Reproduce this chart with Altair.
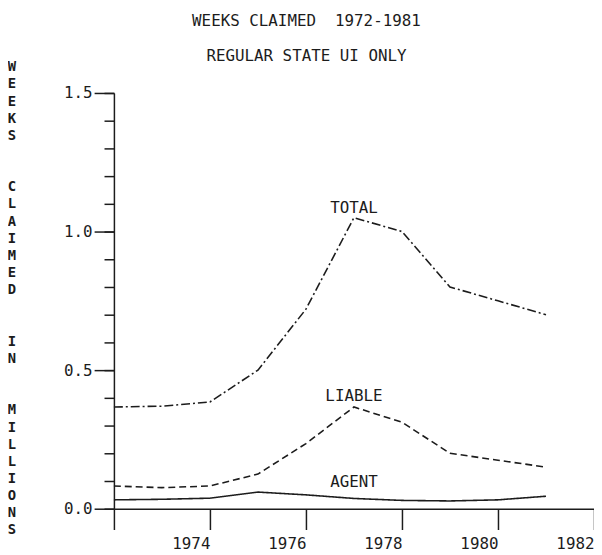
import altair as alt
import pandas as pd

years = [1972, 1973, 1974, 1975, 1976, 1977, 1978, 1979, 1980, 1981]
total = [0.367, 0.370, 0.385, 0.500, 0.720, 1.050, 1.000, 0.800, 0.750, 0.700]
liable = [0.082, 0.076, 0.082, 0.125, 0.235, 0.367, 0.312, 0.200, 0.175, 0.150]
agent = [0.032, 0.034, 0.038, 0.060, 0.050, 0.037, 0.030, 0.028, 0.032, 0.045]

series_names = ["TOTAL", "LIABLE", "AGENT"]
label_years = [1977, 1977, 1977]
label_values = [1.086, 0.405, 0.096]

x_ticks = [1972, 1974, 1976, 1978, 1980, 1982]
y_major = [0.0, 0.5, 1.0, 1.5]
y_minor = [0.0, 0.1, 0.2, 0.3, 0.4, 0.5, 0.6, 0.7, 0.8, 0.9, 1.0, 1.1, 1.2, 1.3, 1.4, 1.5]

# vertical axis title, written one letter per line (two blank lines between words)
y_title_text = "WEEKS  CLAIMED  IN  MILLIONS"

rows = []
for name, vals in zip(series_names, [total, liable, agent]):
    for yr, v in zip(years, vals):
        rows.append({"series": name, "year": yr, "value": v})
df = pd.DataFrame(rows)
df_labels = pd.DataFrame({"label": series_names, "year": label_years, "value": label_values})
df_minor = pd.DataFrame({"value": y_minor})
df_title = pd.DataFrame([{"ch": c, "line": i} for i, c in enumerate(y_title_text) if c != " "])
n_lines = len(y_title_text) - 1

FONT = "DejaVu Sans Mono"
INK = "#1c1c1c"

xscale = alt.Scale(domain=[1972, 1982], nice=False, zero=False)
yscale = alt.Scale(domain=[0, 1.5], nice=False)

x_axis = alt.Axis(values=x_ticks, labelExpr="datum.value == 1972 ? '' : datum.label",
                  format="d", tickSize=21, tickWidth=1.5, tickColor=INK,
                  domainColor=INK, domainWidth=1.5, labelAlign="right",
                  labelBaseline="top", labelPadding=6, labelFont=FONT,
                  labelFontSize=16, labelColor=INK, grid=False, title=None,
                  labelFlush=False, labelOverlap=False)

y_axis = alt.Axis(values=y_major, format=".1f", orient="left", tickSize=20,
                  tickWidth=1.5, tickColor=INK, domainColor=INK, domainWidth=1.5,
                  labelPadding=2, labelFont=FONT, labelFontSize=16, labelColor=INK,
                  grid=False, title=None, labelFlush=False)

y_axis_minor = alt.Axis(values=y_minor, orient="left", tickSize=10, tickWidth=1.5,
                        tickColor=INK, domain=False, labels=False, grid=False,
                        title=None)

lines = alt.Chart(df).mark_line(strokeWidth=1.6, color=INK).encode(
    x=alt.X("year:Q", scale=xscale, axis=x_axis),
    y=alt.Y("value:Q", scale=yscale, axis=y_axis),
    strokeDash=alt.StrokeDash("series:N",
                              scale=alt.Scale(domain=series_names,
                                              range=[[9, 3, 2, 3], [7, 4], [1, 0]]),
                              legend=None),
    detail="series:N",
)

labels = alt.Chart(df_labels).mark_text(font=FONT, fontSize=16, color=INK,
                                        align="center", baseline="middle").encode(
    x=alt.X("year:Q", scale=xscale),
    y=alt.Y("value:Q", scale=yscale, axis=None),
    text="label:N",
)

minor = alt.Chart(df_minor).mark_point(opacity=0).encode(
    y=alt.Y("value:Q", scale=yscale, axis=y_axis_minor),
)

ytitle = alt.Chart(df_title).mark_text(font=FONT, fontSize=14, color=INK,
                                       align="center", baseline="middle",
                                       fontWeight="bold").encode(
    x=alt.value(-103),
    y=alt.Y("line:Q", scale=alt.Scale(domain=[0, n_lines], range=[-26, 442]), axis=None),
    text="ch:N",
)

chart = alt.layer(lines, labels, minor, ytitle).resolve_scale(y="independent").resolve_axis(
    y="independent").properties(
    width=485,
    height=420,
    autosize=alt.AutoSizeParams(type="none"),
    padding={"left": 107, "top": 83, "right": 0, "bottom": 52},
    background="white",
    title=alt.TitleParams(text="WEEKS CLAIMED\u00a0\u00a01972-1981",
                          subtitle="REGULAR STATE UI ONLY",
                          font=FONT, fontSize=16, fontWeight="normal", color=INK,
                          subtitleFont=FONT, subtitleFontSize=16,
                          subtitleColor=INK, subtitlePadding=20,
                          anchor="middle", dx=-48, dy=8),
).configure_view(stroke=None)

chart.save("out.html", embed_options={"renderer": "svg", "actions": False})
